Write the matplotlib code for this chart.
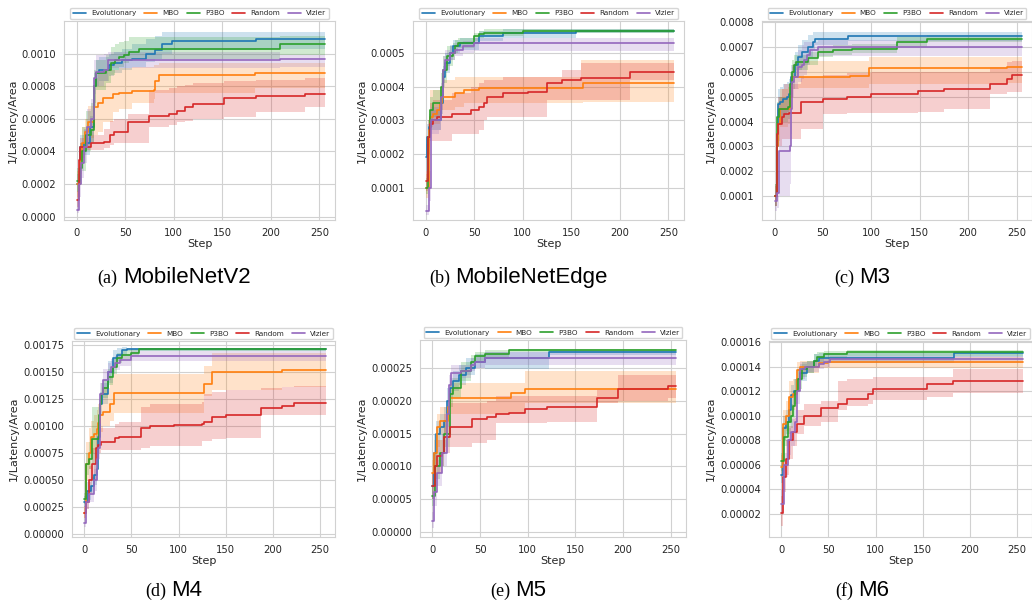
"""Search curves of five optimizers (best 1/Latency/Area vs. step) on six models."""

import numpy as np
import seaborn as sns
import matplotlib.pyplot as plt
from matplotlib.ticker import FormatStrFormatter

METHODS = ['Evolutionary', 'MBO', 'P3BO', 'Random', 'Vizier']
COLORS = ['#1f77b4', '#ff7f0e', '#2ca02c', '#d62728', '#9467bd']
LAST_STEP = 256

# rows: (step, mean, band low, band high), values in units of 1e-4

# (a) MobileNetV2
MNV2_EVO = [(0, 2.0, 1.6, 2.6), (3, 4.3, 3.6, 5.0), (8, 4.5, 3.8, 5.4), (14, 5.5, 4.6, 6.2),
            (18, 8.0, 7.0, 8.8), (20, 8.8, 8.0, 9.6), (23, 9.0, 8.3, 9.8), (33, 9.3, 8.6, 10.0),
            (38, 9.4, 8.8, 10.1), (47, 9.6, 9.0, 10.3), (57, 9.7, 9.2, 10.6), (71, 10.0, 9.5, 10.9),
            (81, 10.2, 9.7, 11.1), (88, 10.6, 10.0, 11.3), (98, 10.8, 10.2, 11.35),
            (185, 10.9, 10.3, 11.35)]
MNV2_MBO = [(0, 2.0, 1.2, 2.8), (3, 3.5, 2.6, 4.5), (6, 4.5, 3.6, 5.5), (9, 5.2, 4.4, 6.0),
            (12, 5.8, 4.8, 6.8), (18, 6.7, 5.0, 8.5), (22, 7.0, 5.2, 8.8), (27, 7.3, 5.8, 9.0),
            (37, 7.5, 6.4, 9.0), (44, 7.6, 6.6, 9.1), (57, 7.7, 7.0, 9.2), (80, 7.8, 7.2, 9.3),
            (81, 8.3, 7.6, 9.3), (85, 8.7, 7.6, 9.4), (184, 8.8, 7.9, 9.4)]
MNV2_P3BO = [(0, 2.2, 1.5, 3.0), (3, 3.0, 2.0, 4.5), (6, 4.0, 2.8, 5.5), (10, 5.0, 4.0, 6.5),
             (15, 5.3, 4.5, 7.0), (18, 8.0, 6.8, 9.0), (20, 8.8, 7.8, 9.6), (30, 9.0, 8.2, 9.9),
             (35, 9.4, 8.7, 10.4), (40, 9.6, 9.0, 10.6), (44, 9.8, 9.2, 10.7), (49, 9.9, 9.4, 10.8),
             (54, 10.1, 9.6, 11.0), (64, 10.3, 9.7, 11.0), (209, 10.6, 9.9, 11.1)]
MNV2_RANDOM = [(0, 1.0, 0.6, 1.6), (2, 3.5, 2.6, 4.2), (3, 4.3, 4.1, 4.8), (15, 4.5, 4.1, 5.0),
               (28, 4.6, 4.2, 5.4), (34, 5.0, 4.4, 5.9), (38, 5.2, 4.5, 6.0), (53, 5.8, 4.5, 6.3),
               (75, 6.2, 5.5, 7.8), (95, 6.3, 5.6, 7.9), (103, 6.5, 5.8, 8.0), (112, 6.7, 5.9, 8.1),
               (120, 6.9, 6.0, 8.2), (152, 7.3, 6.1, 8.3), (185, 7.4, 6.4, 8.4),
               (235, 7.5, 6.7, 8.5)]
MNV2_VIZIER = [(0, 0.4, 0.2, 1.0), (2, 2.0, 1.2, 3.0), (4, 3.3, 2.4, 4.2), (8, 4.3, 3.3, 5.3),
               (11, 5.5, 4.4, 6.6), (15, 6.0, 5.0, 7.2), (18, 8.5, 7.5, 9.6), (20, 8.9, 8.0, 9.9),
               (28, 9.0, 8.3, 10.0), (32, 9.6, 9.1, 10.1), (209, 9.7, 9.2, 9.9)]

# (b) MobileNetEdge
EDGE_EVO = [(0, 1.9, 1.5, 2.3), (1, 2.5, 2.0, 2.9), (3, 2.8, 2.4, 3.2), (6, 3.0, 2.7, 3.3),
            (16, 3.5, 3.2, 3.9), (18, 4.3, 4.0, 4.6), (20, 4.7, 4.4, 5.0), (25, 5.0, 4.8, 5.25),
            (28, 5.2, 5.0, 5.4), (35, 5.3, 5.1, 5.45), (55, 5.5, 5.35, 5.65), (80, 5.6, 5.45, 5.7),
            (155, 5.65, 5.6, 5.7)]
EDGE_MBO = [(0, 1.0, 0.7, 1.4), (3, 2.7, 2.2, 3.3), (5, 3.1, 2.8, 3.9), (8, 3.2, 2.9, 3.9),
            (12, 3.3, 2.9, 3.9), (15, 3.5, 3.0, 4.0), (17, 3.7, 3.3, 4.2), (30, 3.8, 3.4, 4.3),
            (40, 3.9, 3.5, 4.3), (55, 3.95, 3.5, 4.3), (160, 3.95, 3.5, 4.8), (162, 4.1, 3.55, 4.8)]
EDGE_P3BO = [(0, 1.0, 0.8, 1.3), (2, 2.5, 2.0, 3.0), (5, 3.3, 2.9, 3.7), (8, 3.5, 3.1, 3.9),
             (16, 4.0, 3.6, 4.4), (18, 4.5, 4.1, 4.9), (22, 4.9, 4.6, 5.2), (28, 5.0, 4.8, 5.3),
             (30, 5.2, 5.0, 5.4), (33, 5.3, 5.15, 5.45), (50, 5.5, 5.35, 5.6),
             (55, 5.55, 5.45, 5.65), (60, 5.6, 5.5, 5.7), (100, 5.65, 5.6, 5.7)]
EDGE_RANDOM = [(0, 1.2, 0.9, 1.5), (2, 2.5, 2.0, 3.0), (5, 2.9, 2.4, 3.5), (8, 3.0, 2.4, 3.6),
               (12, 3.1, 2.4, 3.6), (27, 3.2, 2.6, 3.8), (47, 3.3, 2.6, 4.0), (55, 3.4, 2.7, 4.1),
               (60, 3.5, 3.0, 4.2), (63, 3.7, 3.1, 4.2), (80, 3.8, 3.1, 4.3), (105, 3.85, 3.1, 4.3),
               (125, 4.1, 3.6, 4.3), (140, 4.2, 3.6, 4.5), (160, 4.25, 3.6, 4.7),
               (210, 4.45, 4.2, 4.7)]
EDGE_VIZIER = [(0, 0.3, 0.2, 0.5), (3, 1.0, 0.6, 1.5), (6, 3.0, 2.6, 3.4), (14, 3.0, 2.7, 3.4),
               (16, 3.7, 3.3, 4.1), (18, 4.5, 4.1, 4.9), (20, 4.8, 4.5, 5.1), (25, 5.0, 4.8, 5.2),
               (30, 5.1, 4.9, 5.3), (38, 5.2, 5.0, 5.35), (50, 5.3, 5.05, 5.45)]

# (c) M3
M3_EVO = [(0, 1.0, 0.6, 1.5), (2, 3.0, 2.2, 3.8), (4, 4.7, 4.0, 5.3), (6, 4.8, 4.2, 5.4),
          (9, 4.9, 4.3, 5.5), (13, 5.0, 4.4, 5.6), (15, 5.1, 4.5, 5.7), (17, 5.8, 5.3, 6.3),
          (21, 6.3, 5.8, 6.8), (24, 6.6, 6.1, 7.1), (28, 6.8, 6.3, 7.3), (35, 7.0, 6.6, 7.5),
          (40, 7.2, 6.9, 7.6), (42, 7.35, 7.1, 7.6), (76, 7.45, 7.25, 7.6)]
M3_MBO = [(0, 1.0, 0.6, 1.5), (2, 3.0, 2.3, 3.8), (4, 3.9, 3.2, 4.7), (6, 4.5, 3.8, 5.3),
          (14, 4.5, 3.9, 5.4), (16, 5.0, 4.4, 5.7), (18, 5.8, 5.3, 6.3), (25, 5.8, 5.35, 6.45),
          (78, 5.85, 5.35, 6.45), (98, 6.15, 5.5, 6.6), (240, 6.2, 5.55, 6.6)]
M3_P3BO = [(0, 1.0, 0.6, 1.5), (3, 4.2, 3.6, 4.8), (5, 4.5, 4.0, 5.0), (14, 4.6, 4.1, 5.1),
           (16, 5.5, 5.0, 6.0), (18, 6.0, 5.6, 6.5), (20, 6.3, 6.0, 6.7), (22, 6.4, 6.1, 6.7),
           (35, 6.55, 6.3, 6.8), (45, 6.8, 6.6, 7.0), (60, 6.9, 6.7, 7.1), (80, 6.95, 6.75, 7.15),
           (127, 7.2, 7.0, 7.4), (157, 7.35, 7.2, 7.5)]
M3_RANDOM = [(0, 1.0, 0.6, 1.4), (2, 3.5, 2.6, 4.5), (4, 3.9, 3.0, 5.0), (8, 4.2, 3.3, 5.3),
             (10, 4.3, 3.3, 5.5), (15, 4.35, 3.3, 5.5), (27, 4.8, 3.7, 5.8), (50, 4.9, 4.3, 5.9),
             (75, 5.0, 4.35, 5.95), (100, 5.1, 4.35, 6.0), (148, 5.25, 4.4, 6.0),
             (175, 5.3, 4.5, 6.0), (223, 5.5, 5.1, 6.2), (240, 5.7, 5.2, 6.4),
             (245, 5.9, 5.2, 6.45)]
M3_VIZIER = [(0, 0.8, 0.4, 1.2), (3, 1.1, 0.5, 2.0), (5, 2.8, 1.0, 4.5), (16, 3.0, 1.5, 5.5),
             (17, 4.5, 3.5, 5.8), (18, 5.6, 5.0, 6.2), (20, 5.8, 5.3, 6.4), (24, 6.2, 5.6, 6.9),
             (28, 6.3, 5.7, 7.1), (30, 6.5, 5.9, 7.2), (33, 6.7, 6.3, 7.2), (37, 6.9, 6.6, 7.2),
             (45, 7.0, 6.65, 7.3)]

# (d) M4
M4_EVO = [(0, 3.0, 2.5, 3.5), (3, 4.0, 3.2, 4.8), (7, 4.5, 3.8, 5.3), (10, 5.5, 4.6, 6.5),
          (13, 6.0, 5.0, 7.0), (15, 9.0, 8.0, 10.5), (17, 12.0, 11.0, 13.2), (19, 13.0, 12.0, 14.0),
          (25, 15.0, 14.0, 16.0), (30, 16.3, 15.5, 17.0), (35, 16.6, 16.0, 17.2),
          (40, 17.0, 16.6, 17.3), (45, 17.1, 16.95, 17.25)]
M4_MBO = [(0, 2.0, 1.5, 2.5), (2, 6.5, 5.0, 8.5), (5, 7.5, 6.0, 9.8), (7, 9.0, 7.5, 10.5),
          (10, 9.3, 7.8, 11.0), (13, 9.7, 8.0, 11.5), (15, 10.3, 8.5, 12.0), (17, 11.0, 9.5, 12.5),
          (20, 11.3, 10.0, 13.5), (27, 12.0, 10.5, 14.5), (32, 13.1, 11.2, 14.8),
          (127, 13.9, 12.8, 15.6), (136, 15.0, 13.3, 16.8), (210, 15.2, 13.6, 16.8)]
M4_P3BO = [(0, 3.3, 2.8, 3.8), (2, 6.5, 5.5, 7.5), (5, 7.0, 6.0, 8.5), (8, 8.8, 6.5, 11.8),
           (14, 8.8, 7.0, 11.8), (16, 11.0, 10.0, 12.5), (17, 12.0, 11.0, 13.0),
           (18, 13.0, 12.0, 14.0), (20, 13.5, 12.6, 14.3), (25, 14.5, 13.8, 15.3),
           (30, 15.5, 14.8, 16.2), (35, 16.3, 15.8, 16.8), (40, 16.6, 16.2, 17.0),
           (50, 16.8, 16.5, 17.1), (58, 17.1, 16.95, 17.25)]
M4_RANDOM = [(0, 2.0, 1.5, 2.6), (2, 3.0, 2.3, 3.8), (5, 5.0, 3.8, 6.3), (8, 6.5, 5.0, 8.0),
             (12, 8.0, 6.5, 9.2), (15, 8.3, 7.5, 9.6), (18, 8.5, 7.8, 9.8), (33, 8.9, 7.8, 10.2),
             (37, 9.0, 7.8, 10.4), (60, 9.8, 8.0, 11.8), (70, 10.0, 8.2, 12.0),
             (95, 10.1, 8.2, 12.0), (125, 10.2, 8.6, 12.2), (127, 10.4, 8.6, 13.0),
             (135, 10.8, 8.8, 13.2), (150, 11.0, 8.9, 13.3), (187, 11.7, 11.0, 13.5),
             (210, 11.9, 11.0, 13.6), (222, 12.1, 11.0, 13.7)]
M4_VIZIER = [(0, 1.0, 0.7, 1.5), (2, 3.0, 2.3, 3.8), (5, 3.7, 3.0, 4.5), (10, 5.0, 4.0, 6.0),
             (13, 7.0, 6.0, 8.0), (15, 8.0, 7.0, 9.5), (17, 13.0, 12.0, 14.0),
             (20, 14.3, 13.5, 15.3), (25, 15.0, 14.3, 15.8), (28, 15.5, 14.8, 16.2),
             (33, 15.8, 15.2, 16.5), (38, 16.1, 15.6, 16.7), (50, 16.5, 16.0, 16.95)]

# (e) M5
M5_EVO = [(0, 0.7, 0.5, 0.9), (2, 1.2, 0.9, 1.5), (4, 1.5, 1.2, 1.7), (8, 1.6, 1.4, 1.8),
          (12, 1.7, 1.5, 1.9), (15, 2.0, 1.8, 2.2), (18, 2.2, 2.05, 2.35), (22, 2.3, 2.15, 2.45),
          (28, 2.4, 2.25, 2.55), (35, 2.5, 2.4, 2.65), (45, 2.6, 2.5, 2.72),
          (55, 2.65, 2.48, 2.75), (122, 2.74, 2.7, 2.78)]
M5_MBO = [(0, 0.9, 0.7, 1.1), (2, 1.2, 1.0, 1.4), (5, 1.6, 1.3, 1.8), (8, 1.7, 1.5, 1.9),
          (16, 1.9, 1.7, 2.0), (18, 2.05, 1.8, 2.27), (82, 2.12, 1.82, 2.27),
          (97, 2.18, 1.96, 2.45), (256, 2.18, 2.0, 2.43)]
M5_P3BO = [(0, 0.55, 0.4, 0.7), (3, 1.0, 0.8, 1.2), (8, 1.2, 1.0, 1.4), (12, 1.5, 1.3, 1.7),
           (18, 2.1, 1.9, 2.3), (22, 2.2, 2.05, 2.35), (30, 2.45, 2.3, 2.6), (40, 2.6, 2.5, 2.7),
           (45, 2.68, 2.6, 2.75), (55, 2.72, 2.66, 2.77), (80, 2.77, 2.74, 2.8)]
M5_RANDOM = [(0, 0.7, 0.5, 0.9), (3, 1.0, 0.8, 1.2), (5, 1.15, 0.9, 1.4), (10, 1.2, 1.0, 1.5),
             (12, 1.45, 1.2, 1.8), (18, 1.6, 1.3, 1.96), (42, 1.72, 1.35, 1.96),
             (57, 1.75, 1.4, 2.0), (67, 1.8, 1.66, 2.07), (80, 1.82, 1.66, 2.07),
             (97, 1.88, 1.66, 2.07), (120, 1.9, 1.67, 2.07), (173, 2.05, 1.96, 2.17),
             (195, 2.18, 2.0, 2.4), (247, 2.22, 2.05, 2.4)]
M5_VIZIER = [(0, 0.17, 0.05, 0.3), (2, 0.6, 0.4, 0.8), (5, 0.9, 0.7, 1.1), (10, 1.2, 1.0, 1.4),
             (15, 1.8, 1.6, 2.0), (17, 2.25, 2.1, 2.4), (20, 2.43, 2.3, 2.55),
             (30, 2.45, 2.35, 2.55), (40, 2.55, 2.45, 2.65), (45, 2.6, 2.5, 2.7),
             (55, 2.65, 2.55, 2.75)]

# (f) M6
M6_EVO = [(0, 0.52, 0.45, 0.6), (2, 0.9, 0.8, 1.0), (5, 0.95, 0.85, 1.05), (8, 1.05, 0.95, 1.15),
          (10, 1.17, 1.05, 1.25), (13, 1.2, 1.1, 1.3), (17, 1.3, 1.2, 1.38),
          (20, 1.35, 1.28, 1.42), (27, 1.4, 1.35, 1.45), (35, 1.45, 1.4, 1.5),
          (40, 1.47, 1.43, 1.51), (183, 1.51, 1.48, 1.53)]
M6_MBO = [(0, 0.58, 0.5, 0.68), (2, 0.93, 0.8, 1.05), (5, 1.0, 0.88, 1.12), (8, 1.15, 1.0, 1.28),
          (12, 1.18, 1.05, 1.3), (17, 1.37, 1.28, 1.44), (20, 1.4, 1.35, 1.45),
          (40, 1.43, 1.39, 1.47), (50, 1.44, 1.39, 1.48)]
M6_P3BO = [(0, 0.63, 0.55, 0.7), (3, 0.83, 0.75, 0.92), (7, 0.95, 0.85, 1.05),
           (10, 1.0, 0.9, 1.1), (12, 1.08, 0.98, 1.18), (15, 1.2, 1.1, 1.3),
           (18, 1.3, 1.22, 1.38), (22, 1.38, 1.32, 1.44), (27, 1.4, 1.35, 1.45),
           (35, 1.45, 1.41, 1.5), (38, 1.48, 1.44, 1.52), (45, 1.5, 1.47, 1.53),
           (70, 1.52, 1.49, 1.54)]
M6_RANDOM = [(0, 0.21, 0.1, 0.35), (2, 0.5, 0.38, 0.65), (5, 0.65, 0.52, 0.8),
             (8, 0.8, 0.65, 0.92), (12, 0.87, 0.75, 0.98), (17, 0.93, 0.85, 1.05),
             (24, 1.0, 0.92, 1.1), (42, 1.06, 0.95, 1.12), (60, 1.1, 1.05, 1.28),
             (70, 1.14, 1.08, 1.3), (92, 1.18, 1.1, 1.3), (97, 1.22, 1.13, 1.32),
             (155, 1.26, 1.15, 1.32), (182, 1.28, 1.19, 1.38)]
M6_VIZIER = [(0, 0.28, 0.2, 0.4), (3, 0.6, 0.5, 0.7), (7, 0.8, 0.68, 0.9), (10, 0.87, 0.75, 0.97),
             (15, 0.95, 0.85, 1.05), (17, 1.2, 1.1, 1.3), (20, 1.38, 1.3, 1.44),
             (25, 1.4, 1.36, 1.44), (40, 1.42, 1.38, 1.46), (45, 1.44, 1.4, 1.48),
             (52, 1.46, 1.43, 1.49)]

LABELS = ['(a)', '(b)', '(c)', '(d)', '(e)', '(f)']
MODELS = ['MobileNetV2', 'MobileNetEdge', 'M3', 'M4', 'M5', 'M6']
CURVES = [
    [MNV2_EVO, MNV2_MBO, MNV2_P3BO, MNV2_RANDOM, MNV2_VIZIER],
    [EDGE_EVO, EDGE_MBO, EDGE_P3BO, EDGE_RANDOM, EDGE_VIZIER],
    [M3_EVO, M3_MBO, M3_P3BO, M3_RANDOM, M3_VIZIER],
    [M4_EVO, M4_MBO, M4_P3BO, M4_RANDOM, M4_VIZIER],
    [M5_EVO, M5_MBO, M5_P3BO, M5_RANDOM, M5_VIZIER],
    [M6_EVO, M6_MBO, M6_P3BO, M6_RANDOM, M6_VIZIER],
]
YTICKS = [
    [0.0, 0.0002, 0.0004, 0.0006, 0.0008, 0.0010],
    [0.0001, 0.0002, 0.0003, 0.0004, 0.0005],
    [0.0001, 0.0002, 0.0003, 0.0004, 0.0005, 0.0006, 0.0007, 0.0008],
    [0.0, 0.00025, 0.0005, 0.00075, 0.001, 0.00125, 0.0015, 0.00175],
    [0.0, 0.00005, 0.0001, 0.00015, 0.0002, 0.00025],
    [0.00002, 0.00004, 0.00006, 0.00008, 0.0001, 0.00012, 0.00014, 0.00016],
]
YLIMS = [(-0.00002, 0.0012), (0.000004, 0.000595), (0.000003, 0.000806),
         (-0.000025, 0.001787), (-0.000008, 0.000293), (0.0000012, 0.000161)]
YFMT = ['%.4f', '%.4f', '%.4f', '%.5f', '%.5f', '%.5f']

# axes boxes in pixels: left, right, top, bottom
W, H = 1032, 607
BOXES = [(64, 335, 21, 220), (413, 684, 21, 220), (762, 1032, 21, 220),
         (72, 335, 341, 537), (420, 686, 340, 537), (769, 1032, 341, 537)]
CAPTION_Y = [283, 283, 283, 596, 596, 596]


def draw_panel(ax, curves, yticks, ylim, fmt):
    for rows, name, color in zip(curves, METHODS, COLORS):
        data = np.array(rows + [(LAST_STEP,) + tuple(rows[-1][1:])]) * [1, 1e-4, 1e-4, 1e-4]
        x, mean, lo, hi = data.T
        ax.fill_between(x, lo, hi, step='post', color=color, alpha=0.22, lw=0)
        ax.step(x, mean, where='post', color=color, lw=1.2, label=name)
    ax.set_xlim(-13, 266)
    ax.set_xticks([0, 50, 100, 150, 200, 250])
    ax.set_yticks(yticks)
    ax.set_ylim(*ylim)
    ax.yaxis.set_major_formatter(FormatStrFormatter(fmt))
    ax.tick_params(labelsize=7.2, pad=2)
    ax.set_xlabel('Step', fontsize=8, labelpad=1)
    ax.set_ylabel('1/Latency/Area', fontsize=8, labelpad=3)
    ax.legend(loc='lower center', bbox_to_anchor=(0.5, 1.01), ncol=5, fontsize=5.2,
              frameon=True, borderaxespad=0, handlelength=1.8, columnspacing=1.1,
              handletextpad=0.7, borderpad=0.35, fancybox=True)


sns.set_style('whitegrid', {'grid.color': '.82', 'axes.edgecolor': '.82'})
plt.rcParams['font.family'] = ['DejaVu Sans']
fig = plt.figure(figsize=(W / 100, H / 100), dpi=100)

for i in range(6):
    left, right, top, bottom = BOXES[i]
    ax = fig.add_axes([left / W, 1 - bottom / H, (right - left) / W, (bottom - top) / H])
    draw_panel(ax, CURVES[i], YTICKS[i], YLIMS[i], YFMT[i])

# captions: serif panel letter followed by sans model name, centred per column
renderer = fig.canvas.get_renderer()
for i in range(6):
    cx = [174, 518, 862][i % 3]
    t1 = fig.text(0, 1 - CAPTION_Y[i] / H, LABELS[i], family='Liberation Serif',
                  fontsize=13, va='baseline', color='black')
    t2 = fig.text(0, 1 - CAPTION_Y[i] / H, MODELS[i], family='Liberation Sans',
                  fontsize=16, va='baseline', color='black')
    w1 = t1.get_window_extent(renderer).width
    w2 = t2.get_window_extent(renderer).width
    x0 = cx - (w1 + 5 + w2) / 2
    t1.set_x(x0 / W)
    t2.set_x((x0 + w1 + 5) / W)

fig.savefig('out.png', dpi=100)
